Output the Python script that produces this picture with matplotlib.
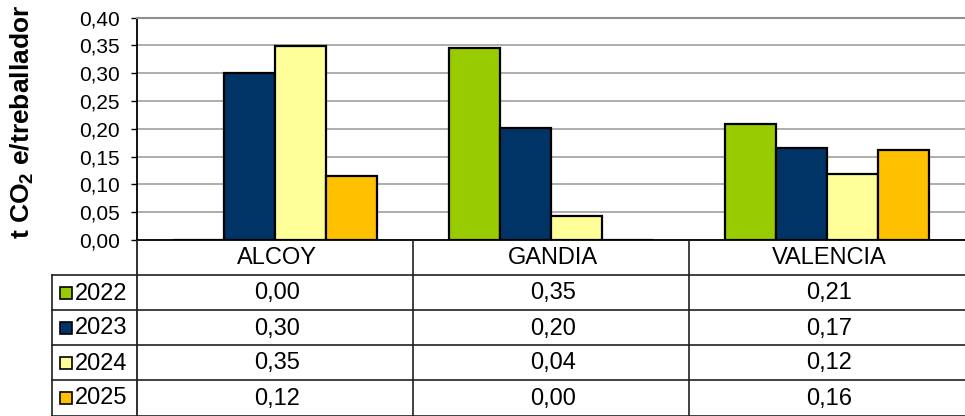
import matplotlib
matplotlib.use("Agg")
import matplotlib.pyplot as plt
from matplotlib.patches import Rectangle

plt.rcParams['font.family'] = ['Liberation Sans', 'DejaVu Sans']
plt.rcParams['mathtext.fontset'] = 'custom'
plt.rcParams['mathtext.rm'] = 'Liberation Sans'
plt.rcParams['mathtext.bf'] = 'Liberation Sans:bold'

# data
cities = ['ALCOY', 'GANDIA', 'VALENCIA']
years = ['2022', '2023', '2024', '2025']
v2022 = [0.00, 0.346, 0.208]
v2023 = [0.301, 0.202, 0.166]
v2024 = [0.349, 0.044, 0.119]
v2025 = [0.116, 0.00, 0.162]
series = [v2022, v2023, v2024, v2025]
colors = ['#99CC00', '#003366', '#FFFF99', '#FFC000']
yticks = [0.0, 0.05, 0.10, 0.15, 0.20, 0.25, 0.30, 0.35, 0.40]

W, H = 965, 416
fig = plt.figure(figsize=(W / 100, H / 100), dpi=100)

# pixel layout
left, right, top, bottom = 137, 965, 17.7, 240
tleft = 52

ax = fig.add_axes([left / W, (H - bottom) / H, (right - left) / W, (bottom - top) / H])
bw = 51 / ((right - left) / 3)
for i, vals in enumerate(series):
    xs = [j + (i - 1.5) * bw for j in range(len(cities))]
    ax.bar(xs, vals, width=bw, color=colors[i], edgecolor='black', linewidth=1.6, zorder=3)

ax.set_xlim(-0.5, len(cities) - 0.5)
ax.set_ylim(0, 0.40)
ax.set_yticks(yticks)
ax.set_yticklabels([f"{t:.2f}".replace('.', ',') for t in yticks], fontsize=15)
ax.set_xticks([])
ax.yaxis.grid(True, color='#a0a0a0', linewidth=1.2, zorder=0)
ax.tick_params(axis='y', length=4.5, width=1, pad=8, colors='black')
for s in ['top', 'right']:
    ax.spines[s].set_visible(False)
ax.spines['left'].set_linewidth(1.3)
ax.spines['bottom'].set_linewidth(1.3)
ax.spines['top'].set_visible(True)
ax.spines['top'].set_color('#909090')
ax.spines['top'].set_linewidth(1.5)

fig.text(22 / W, (H - 122) / H, r't CO$_\mathbf{2}$ e/treballador', rotation=90,
         fontsize=19, fontweight='bold', ha='center', va='center')

# data table below the plot
tb = fig.add_axes([0, 0, 1, (H - bottom) / H])
tb.set_xlim(0, W)
tb.set_ylim(H, bottom)
tb.axis('off')

colw = (right - left) / len(cities)
rowh = 35
lc = '#202020'
# verticals
tb.plot([left, left], [bottom, H], color=lc, lw=1.3)
for j in range(1, len(cities)):
    x = left + j * colw
    tb.plot([x, x], [bottom, H], color=lc, lw=1.2)
tb.plot([tleft, tleft], [bottom + rowh, H], color=lc, lw=1.2)
# horizontals
for r in range(1, len(years) + 1):
    y = bottom + r * rowh
    tb.plot([tleft, right], [y, y], color=lc, lw=1.2)
tb.plot([tleft, right], [H - 0.5, H - 0.5], color=lc, lw=1.2)

for j, c in enumerate(cities):
    tb.text(left + (j + 0.5) * colw + 2, bottom + rowh / 2 + 1, c, ha='center', va='center', fontsize=17)

for i, (yr, vals) in enumerate(zip(years, series)):
    yc = bottom + (i + 1.5) * rowh
    tb.add_patch(Rectangle((60, yc - 6), 12, 12, facecolor=colors[i], edgecolor='black', lw=1.2))
    tb.text(75, yc + 1, yr, ha='left', va='center', fontsize=17)
    for j, v in enumerate(vals):
        tb.text(left + (j + 0.5) * colw + 2, yc + 1, f"{v:.2f}".replace('.', ','),
                ha='center', va='center', fontsize=17)

fig.savefig('out.png', dpi=100)
